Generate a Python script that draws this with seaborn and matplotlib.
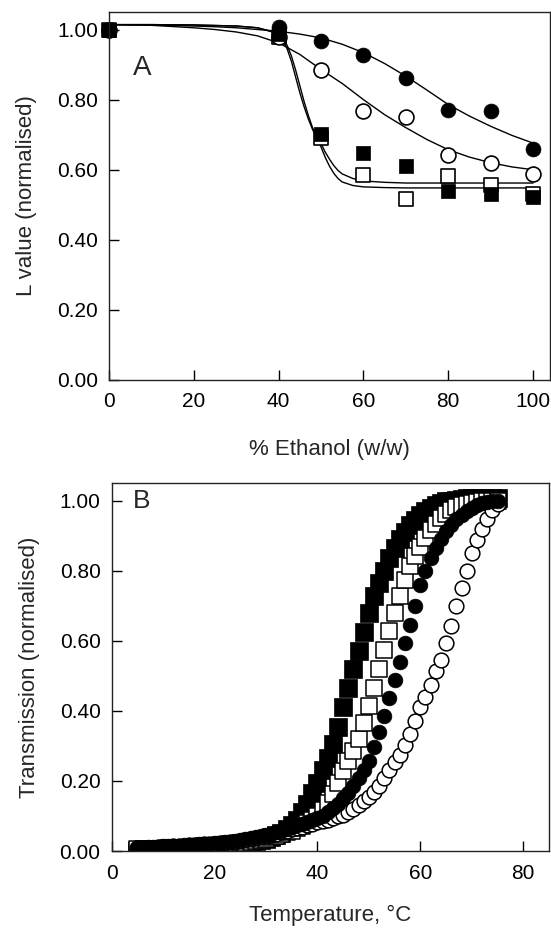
import matplotlib
matplotlib.use("Agg")
import matplotlib.pyplot as plt
import seaborn as sns
from matplotlib.ticker import FormatStrFormatter

# ---------------- Panel A data ----------------
ethanol = [0, 40, 50, 60, 70, 80, 90, 100]
a_filled_circle = [1.00, 1.006, 0.966, 0.927, 0.863, 0.771, 0.767, 0.660]
a_open_circle = [1.00, 0.980, 0.884, 0.767, 0.749, 0.643, 0.620, 0.589]
a_open_square = [1.00, 0.980, 0.691, 0.584, 0.517, 0.581, 0.557, 0.530]
a_filled_square = [1.00, 0.986, 0.703, 0.649, 0.611, 0.540, 0.531, 0.523]

# fitted curves
fit_x_circ = [0, 10, 20, 25, 30, 35, 40, 45, 50, 55, 60, 65, 70, 75, 80, 85, 90, 95, 100]
fit_filled_circle = [1.014, 1.013, 1.010, 1.008, 1.005, 1.000, 0.995, 0.987, 0.976, 0.958, 0.934,
                     0.903, 0.867, 0.827, 0.786, 0.753, 0.724, 0.698, 0.676]
fit_open_circle = [1.014, 1.012, 1.005, 1.000, 0.993, 0.982, 0.962, 0.929, 0.886, 0.846, 0.800,
                   0.757, 0.720, 0.686, 0.657, 0.636, 0.620, 0.608, 0.600]
fit_x_sq = [0, 10, 20, 30, 35, 40, 41, 42, 43, 44, 45, 46, 47, 48, 49, 50, 51, 52, 53, 54, 55,
            57.5, 60, 65, 70, 80, 90, 100]
fit_filled_square = [1.014, 1.014, 1.013, 1.010, 1.005, 0.990, 0.975, 0.955, 0.925, 0.885, 0.840,
                     0.795, 0.755, 0.720, 0.695, 0.675, 0.650, 0.630, 0.612, 0.598, 0.588,
                     0.575, 0.568, 0.564, 0.562, 0.562, 0.562, 0.562]
fit_open_square = [1.014, 1.014, 1.013, 1.010, 1.005, 0.988, 0.970, 0.945, 0.910, 0.865, 0.820,
                   0.780, 0.745, 0.715, 0.690, 0.665, 0.635, 0.610, 0.590, 0.575, 0.565,
                   0.555, 0.551, 0.549, 0.548, 0.548, 0.548, 0.548]

# ---------------- Panel B data ----------------
temperature = [5, 6, 7, 8, 9, 10, 11, 12, 13, 14,
               15, 16, 17, 18, 19, 20, 21, 22, 23, 24,
               25, 26, 27, 28, 29, 30, 31, 32, 33, 34,
               35, 36, 37, 38, 39, 40, 41, 42, 43, 44,
               45, 46, 47, 48, 49, 50, 51, 52, 53, 54,
               55, 56, 57, 58, 59, 60, 61, 62, 63, 64,
               65, 66, 67, 68, 69, 70, 71, 72, 73, 74,
               75]
b_open_circle = [0.009, 0.009, 0.010, 0.010, 0.011, 0.012, 0.012, 0.013, 0.014, 0.015,
                 0.016, 0.017, 0.018, 0.019, 0.020, 0.021, 0.022, 0.023, 0.025, 0.027,
                 0.029, 0.031, 0.034, 0.037, 0.040, 0.043, 0.046, 0.050, 0.054, 0.058,
                 0.062, 0.066, 0.070, 0.074, 0.078, 0.082, 0.086, 0.090, 0.094, 0.099,
                 0.104, 0.110, 0.119, 0.131, 0.142, 0.153, 0.168, 0.187, 0.208, 0.232,
                 0.255, 0.275, 0.303, 0.335, 0.372, 0.412, 0.440, 0.475, 0.515, 0.545,
                 0.593, 0.643, 0.700, 0.750, 0.800, 0.850, 0.888, 0.920, 0.948, 0.972,
                 0.990]
b_filled_circle = [0.010, 0.010, 0.011, 0.011, 0.012, 0.013, 0.013, 0.014, 0.015, 0.016,
                   0.017, 0.018, 0.019, 0.020, 0.021, 0.022, 0.024, 0.025, 0.027, 0.029,
                   0.031, 0.033, 0.036, 0.039, 0.042, 0.045, 0.049, 0.053, 0.058, 0.063,
                   0.068, 0.073, 0.078, 0.083, 0.088, 0.093, 0.100, 0.110, 0.122, 0.135,
                   0.150, 0.167, 0.186, 0.207, 0.230, 0.258, 0.298, 0.340, 0.385, 0.437,
                   0.488, 0.540, 0.593, 0.645, 0.700, 0.758, 0.800, 0.835, 0.865, 0.890,
                   0.912, 0.930, 0.946, 0.960, 0.971, 0.980, 0.987, 0.992, 0.996, 0.998,
                   1.000]
b_open_square = [0.005, 0.005, 0.006, 0.006, 0.007, 0.007, 0.008, 0.008, 0.009, 0.009,
                 0.010, 0.011, 0.012, 0.013, 0.014, 0.015, 0.016, 0.017, 0.019, 0.020,
                 0.022, 0.024, 0.026, 0.029, 0.032, 0.035, 0.039, 0.043, 0.048, 0.053,
                 0.058, 0.065, 0.072, 0.080, 0.090, 0.100, 0.116, 0.138, 0.162, 0.193,
                 0.228, 0.258, 0.285, 0.320, 0.365, 0.415, 0.465, 0.518, 0.573, 0.627,
                 0.680, 0.727, 0.772, 0.812, 0.843, 0.868, 0.893, 0.915, 0.934, 0.950,
                 0.963, 0.973, 0.981, 0.987, 0.991, 0.994, 0.996, 0.998, 0.999, 1.000,
                 1.000]
b_filled_square = [0.001, 0.001, 0.002, 0.002, 0.003, 0.003, 0.004, 0.004, 0.005, 0.006,
                   0.007, 0.008, 0.009, 0.010, 0.011, 0.012, 0.013, 0.014, 0.016, 0.018,
                   0.020, 0.022, 0.025, 0.028, 0.031, 0.035, 0.039, 0.045, 0.052, 0.062,
                   0.073, 0.090, 0.110, 0.135, 0.165, 0.195, 0.230, 0.265, 0.305, 0.355,
                   0.410, 0.465, 0.520, 0.572, 0.625, 0.680, 0.728, 0.765, 0.800, 0.835,
                   0.865, 0.890, 0.910, 0.930, 0.945, 0.958, 0.970, 0.980, 0.988, 0.994,
                   0.998, 1.000, 1.003, 1.005, 1.006, 1.007, 1.007, 1.007, 1.007, 1.007,
                   1.007]

a_ticks_x = [0, 20, 40, 60, 80, 100]
b_ticks_x = [0, 20, 40, 60, 80]
y_ticks = [0.0, 0.2, 0.4, 0.6, 0.8, 1.0]

# ---------------- styling ----------------
sns.set_style("ticks")
plt.rcParams["font.family"] = ["Liberation Sans", "DejaVu Sans"]

fig = plt.figure(figsize=(5.51, 9.3), dpi=100)
axA = fig.add_axes([0.1978, 0.5914, 0.8004, 0.3957])
axB = fig.add_axes([0.2027, 0.0849, 0.7936, 0.3957])

# Panel A curves
for xs, ys in [(fit_x_circ, fit_filled_circle), (fit_x_circ, fit_open_circle),
               (fit_x_sq, fit_filled_square), (fit_x_sq, fit_open_square)]:
    sns.lineplot(x=xs, y=ys, ax=axA, color="black", lw=1.0, estimator=None,
                 sort=False, zorder=2)

msA = 115
sns.scatterplot(x=ethanol, y=a_open_square, ax=axA, marker="s", s=msA, color="white",
                edgecolor="black", linewidth=1.2, zorder=3, clip_on=False)
sns.scatterplot(x=ethanol, y=a_filled_square, ax=axA, marker="s", s=msA, color="black",
                edgecolor="black", linewidth=0.5, zorder=4, clip_on=False)
sns.scatterplot(x=ethanol, y=a_open_circle, ax=axA, marker="o", s=msA, color="white",
                edgecolor="black", linewidth=1.2, zorder=3, clip_on=False)
sns.scatterplot(x=ethanol, y=a_filled_circle, ax=axA, marker="o", s=msA, color="black",
                edgecolor="black", linewidth=0.5, zorder=4, clip_on=False)

# Panel B scatter
sns.scatterplot(x=temperature, y=b_filled_square, ax=axB, marker="s", s=150, color="black",
                edgecolor="black", linewidth=0.5, zorder=2)
sns.scatterplot(x=temperature, y=b_open_square, ax=axB, marker="s", s=118, color="white",
                edgecolor="black", linewidth=1.1, zorder=3)
sns.scatterplot(x=temperature, y=b_open_circle, ax=axB, marker="o", s=112, color="white",
                edgecolor="black", linewidth=1.1, zorder=4)
sns.scatterplot(x=temperature, y=b_filled_circle, ax=axB, marker="o", s=112, color="black",
                edgecolor="black", linewidth=0.5, zorder=5)

for ax, xt, xlim, ylim in [(axA, a_ticks_x, (0, 104), (0, 1.05)),
                           (axB, b_ticks_x, (0, 85), (0, 1.05))]:
    ax.set_xlim(*xlim)
    ax.set_ylim(*ylim)
    ax.set_xticks(xt)
    ax.set_yticks(y_ticks)
    ax.yaxis.set_major_formatter(FormatStrFormatter("%.2f"))
    ax.tick_params(direction="in", length=7, width=1.0, labelsize=15, colors="black",
                   top=False, right=False)
    ax.tick_params(axis="y", pad=8)
    ax.tick_params(axis="x", pad=9)
    for sp in ax.spines.values():
        sp.set_visible(True)
        sp.set_linewidth(1.0)
        sp.set_color("#222222")
        sp.set_zorder(10)

axA.set_xlabel("% Ethanol (w/w)", fontsize=16, labelpad=20)
axA.set_ylabel("L value (normalised)", fontsize=16, labelpad=14)
axB.set_xlabel("Temperature, °C", fontsize=16, labelpad=16)
axB.set_ylabel("Transmission (normalised)", fontsize=16, labelpad=14)

axA.text(5.7, 0.871, "A", fontsize=20, va="baseline", ha="left")
axB.text(4.1, 0.98, "B", fontsize=19, va="baseline", ha="left")

fig.savefig("out.png", dpi=100)
